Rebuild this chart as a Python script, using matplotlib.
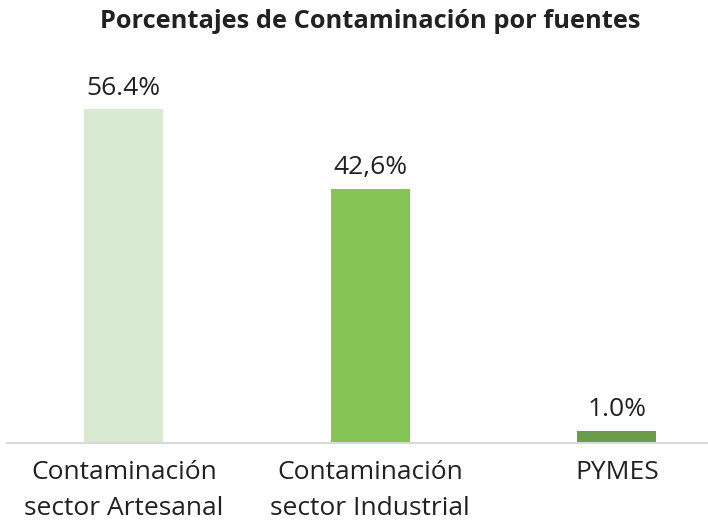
import matplotlib
matplotlib.use("Agg")
import matplotlib.pyplot as plt

# data
categories = ["Contaminación\nsector Artesanal", "Contaminación\nsector Industrial", "PYMES"]
heights = [56.4, 43.0, 2.1]
value_labels = ["56.4%", "42,6%", "1.0%"]
bar_colors = ["#d9ead3", "#84c556", "#6a9c4b"]

plt.rcParams["font.family"] = ["Open Sans", "DejaVu Sans"]
text_color = "#212121"

fig = plt.figure(figsize=(7.08, 5.22), dpi=100)
# axes box in figure fractions (left, bottom, width, height)
ax = fig.add_axes([7 / 708, 79 / 522, 701 / 708, 355 / 522])

x = list(range(len(categories)))
bars = ax.bar(x, heights, width=0.32, color=bar_colors, zorder=2)

for b, lab in zip(bars, value_labels):
    ax.annotate(lab, (b.get_x() + b.get_width() / 2, b.get_height()),
                xytext=(0, 6), textcoords="offset points",
                ha="center", va="bottom", fontsize=19, color=text_color)

ax.set_xlim(-0.474, 2.37)
ax.set_ylim(0, 60)
ax.set_xticks(x)
ax.set_xticklabels(categories, fontsize=19, color=text_color, linespacing=1.6)
ax.tick_params(axis="x", length=0, pad=12)
ax.set_yticks([])

for s in ["top", "right", "left"]:
    ax.spines[s].set_visible(False)
ax.spines["bottom"].set_color("#d9d9d9")
ax.spines["bottom"].set_linewidth(1.5)
ax.spines["bottom"].set_zorder(3)

fig.text(0.523, 1 - 22 / 522, "Porcentajes de Contaminación por fuentes",
         ha="center", va="center", fontsize=18.3, fontweight="bold", color=text_color)

fig.savefig("out.png", dpi=100)
